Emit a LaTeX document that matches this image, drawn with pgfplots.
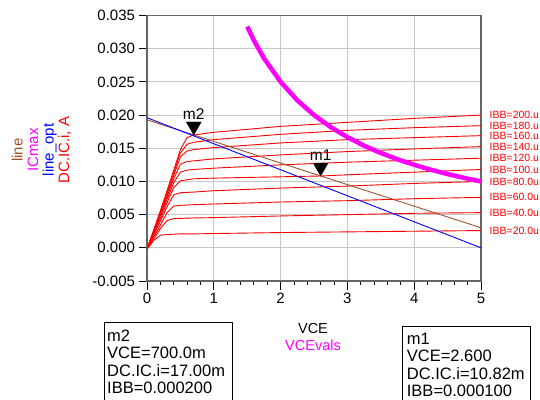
\documentclass[border=0pt]{standalone}
\usepackage{pgfplots}
\pgfplotsset{compat=1.18}
\usepackage{fontspec}
\setmainfont{Liberation Sans}
\definecolor{linebrown}{RGB}{160,82,45}
\definecolor{icmag}{RGB}{255,0,255}
\tikzset{ibb/.style={anchor=west, red, inner sep=0pt, xshift=8.5pt, font=\fontsize{10.5}{12}\selectfont}}
\begin{document}
\begin{tikzpicture}
\useasboundingbox (0,0) rectangle (540pt,399pt);
\begin{axis}[
 scale only axis, width=334pt, height=265.5pt,
 at={(147pt,118pt)}, anchor=south west,
 xmin=0, xmax=5, ymin=-0.005, ymax=0.035,
 xtick={0,1,2,3,4,5}, minor x tick num=4,
 ytick={-0.005,0,0.005,0.01,0.015,0.02,0.025,0.03,0.035},
 tick pos=left, tick align=outside,
 major tick length=8.5pt, minor tick length=4pt,
 tick style={black, line width=0.8pt},
 grid=major, major grid style={draw=black!22, line width=0.8pt},
 axis line style={draw=black!60, line width=1.3pt},
 ticklabel style={font=\fontsize{15}{18}\selectfont},
 /pgf/number format/assume math mode=true,
 y tick label style={/pgf/number format/fixed, /pgf/number format/fixed zerofill, /pgf/number format/precision=3},
 scaled y ticks=false,
 clip mode=individual,
 every axis plot/.append style={line width=0.9pt},
]
% DC.IC.i curves
\addplot[red] coordinates {(0,-0.0002)(0.1,0.0011)(0.2,0.0019)(0.3,0.0020)(0.5,0.0021)(0.7,0.0021)(1,0.00215)(2,0.0023)(3,0.0024)(4,0.0025)(5,0.0026)};
\addplot[red] coordinates {(0,-0.0002)(0.1,0.0013)(0.2,0.0029)(0.3,0.0041)(0.4,0.0044)(0.7,0.0045)(1,0.00455)(2,0.0048)(3,0.0050)(4,0.0052)(5,0.0053)};
\addplot[red] coordinates {(0,-0.0002)(0.1,0.0016)(0.2,0.0034)(0.3,0.0053)(0.4,0.0063)(0.5,0.0064)(0.7,0.0065)(1,0.0066)(2,0.0069)(3,0.0071)(4,0.0074)(5,0.0076)};
\addplot[red] coordinates {(0,-0.0002)(0.1,0.0019)(0.2,0.0040)(0.3,0.0062)(0.4,0.0080)(0.5,0.0083)(0.7,0.0084)(1,0.0086)(2,0.0090)(3,0.0093)(4,0.0097)(5,0.0100)};
\addplot[red] coordinates {(0,-0.0002)(0.1,0.0021)(0.2,0.0044)(0.3,0.0068)(0.4,0.0091)(0.5,0.0101)(0.7,0.0104)(1,0.0105)(2,0.0107)(2.6,0.01082)(3,0.0110)(4,0.0114)(5,0.0118)};
\addplot[red] coordinates {(0,-0.0002)(0.1,0.0023)(0.2,0.0048)(0.3,0.0073)(0.4,0.0098)(0.5,0.0114)(0.6,0.0117)(0.7,0.0118)(1,0.0120)(2,0.0125)(3,0.0129)(4,0.0132)(5,0.0135)};
\addplot[red] coordinates {(0,-0.0002)(0.1,0.0024)(0.2,0.0050)(0.3,0.0077)(0.4,0.0104)(0.5,0.0126)(0.6,0.0130)(0.7,0.0131)(1,0.0134)(2,0.0140)(3,0.0145)(4,0.0149)(5,0.01525)};
\addplot[red] coordinates {(0,-0.0002)(0.1,0.0025)(0.2,0.0052)(0.3,0.0080)(0.4,0.0109)(0.5,0.0137)(0.6,0.0146)(0.7,0.0148)(1,0.0151)(2,0.0158)(3,0.0163)(4,0.0166)(5,0.0169)};
\addplot[red] coordinates {(0,-0.0002)(0.1,0.0026)(0.2,0.0054)(0.3,0.0083)(0.4,0.0113)(0.5,0.0143)(0.6,0.0156)(0.7,0.0159)(1,0.0163)(2,0.0171)(3,0.0177)(4,0.0181)(5,0.0184)};
\addplot[red] coordinates {(0,-0.0002)(0.1,0.0027)(0.2,0.0056)(0.3,0.0086)(0.4,0.0117)(0.5,0.0148)(0.6,0.0166)(0.7,0.0170)(1,0.0174)(2,0.0183)(3,0.0189)(4,0.0195)(5,0.0200)};
% line and line_opt
\addplot[linebrown] coordinates {(0,0.01928)(5,0.00302)};
\addplot[blue] coordinates {(0,0.0196)(5,0.0000)};
% ICmax
\addplot[icmag, line width=4.5pt] coordinates {(1.5,0.03333)(1.6,0.03125)(1.75,0.02857)(2,0.025)(2.25,0.02222)(2.5,0.02)(2.75,0.01818)(3,0.01667)(3.25,0.01538)(3.5,0.01429)(3.75,0.01333)(4,0.0125)(4.25,0.01176)(4.5,0.01111)(4.75,0.01053)(5,0.01)};
% markers
\addplot[only marks, mark=triangle*, mark size=8.66pt, mark options={fill=black, draw=black, line width=0.3pt, yshift=8.66pt, rotate=180}] coordinates {(0.7,0.017)(2.6,0.01082)};
\node[anchor=base, font=\fontsize{15.5}{18}\selectfont, yshift=15.4pt] at (axis cs:0.7,0.017) {m2};
\node[anchor=base, font=\fontsize{15.5}{18}\selectfont, yshift=15.4pt] at (axis cs:2.6,0.01082) {m1};
% IBB labels
\node[ibb] at (axis cs:5,0.0200) {IBB=200.u};
\node[ibb] at (axis cs:5,0.0184) {IBB=180.u};
\node[ibb] at (axis cs:5,0.0169) {IBB=160.u};
\node[ibb] at (axis cs:5,0.01525) {IBB=140.u};
\node[ibb] at (axis cs:5,0.0135) {IBB=120.u};
\node[ibb] at (axis cs:5,0.0118) {IBB=100.u};
\node[ibb] at (axis cs:5,0.0100) {IBB=80.0u};
\node[ibb] at (axis cs:5,0.0076) {IBB=60.0u};
\node[ibb] at (axis cs:5,0.0053) {IBB=40.0u};
\node[ibb] at (axis cs:5,0.0026) {IBB=20.0u};
\end{axis}
% y label
\node[rotate=90, align=center, font=\fontsize{15}{15.5}\selectfont] at (41.5pt,249pt)
 {\textcolor{linebrown}{line}\\\textcolor{icmag}{ICmax}\\\textcolor{blue}{line\_opt}\\\textcolor{red}{DC.IC.i, A}};
% x label
\node[align=center, font=\fontsize{14.5}{17}\selectfont] at (313pt,61.5pt) {VCE\\\textcolor{icmag}{VCEvals}};
% marker boxes
\draw[black, line width=1pt] (104pt,-5pt) rectangle (232pt,76.3pt);
\draw[black, line width=1pt] (402.7pt,-5pt) rectangle (530.7pt,72.3pt);
\begin{scope}[every node/.style={anchor=base west, inner sep=0pt, font=\fontsize{16.5}{17}\selectfont}]
\node at (107pt,58pt) {m2};
\node at (107pt,40.4pt) {VCE=700.0m};
\node at (107pt,23pt) {DC.IC.i=17.00m};
\node at (107pt,6pt) {IBB=0.000200};
\node at (406.7pt,55pt) {m1};
\node at (406.7pt,37.4pt) {VCE=2.600};
\node at (406.7pt,20pt) {DC.IC.i=10.82m};
\node at (406.7pt,3pt) {IBB=0.000100};
\end{scope}
\end{tikzpicture}
\end{document}
